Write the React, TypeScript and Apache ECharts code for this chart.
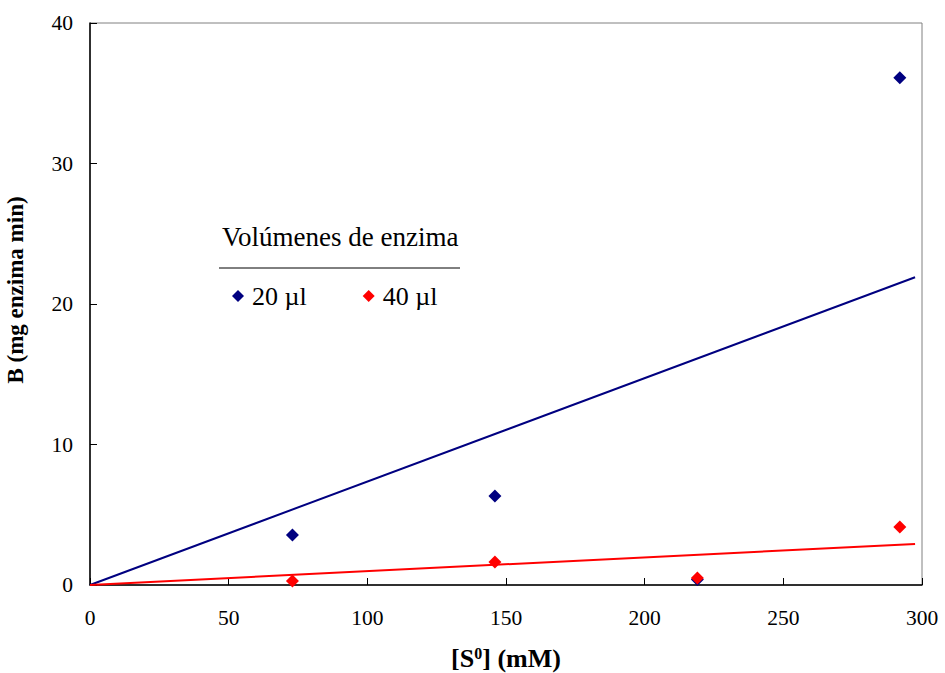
import React, { useEffect, useRef } from "react";
import * as echarts from "echarts";

const substrate = [73, 146, 219, 292];
const b20 = [3.55, 6.33, 0.4, 36.1];
const b40 = [0.28, 1.64, 0.5, 4.13];
const trendX = [0, 297.5];
const trend20 = [0, 21.9];
const trend40 = [0, 2.92];
const seriesNames = ["20 µl", "40 µl"];
const legendTitle = "Volúmenes de enzima";
const xTitle = "[S{sup|0}] (mM)";
const yTitle = "B (mg enzima min)";

const FONT = "Liberation Serif";

export default function App() {
  const ref = useRef<HTMLDivElement>(null);
  useEffect(() => {
    if (!ref.current) return;
    const chart = echarts.init(ref.current, null, { renderer: "svg" });
    const pts = (xs: number[], ys: number[]) => xs.map((x, i) => [x, ys[i]]);
    chart.setOption({
      animation: false,
      textStyle: { fontFamily: FONT },
      grid: {
        left: 90,
        right: 23,
        top: 23,
        bottom: 88,
        show: true,
        borderColor: "#808080",
        borderWidth: 1,
        containLabel: false,
        outerBoundsMode: "none",
      },
      xAxis: {
        type: "value",
        min: 0,
        max: 300,
        interval: 50,
        name: xTitle,
        nameLocation: "middle",
        nameGap: 60,
        nameTextStyle: {
          fontFamily: FONT,
          fontSize: 26,
          fontWeight: "bold",
          color: "#000",
          rich: {
            sup: {
              fontFamily: FONT,
              fontSize: 16,
              fontWeight: "bold",
              color: "#000",
              verticalAlign: "top",
              padding: [0, 0, 10, 0],
            },
          },
        },
        axisLine: { show: true, lineStyle: { color: "#000", width: 1.5 } },
        axisTick: { show: true, inside: true, length: 7, lineStyle: { color: "#000" } },
        axisLabel: { fontFamily: FONT, fontSize: 21.5, color: "#000", margin: 22 },
        splitLine: { show: false },
      },
      yAxis: {
        type: "value",
        min: 0,
        max: 40,
        interval: 10,
        name: yTitle,
        nameLocation: "middle",
        nameGap: 63,
        nameRotate: 90,
        nameTextStyle: {
          fontFamily: FONT,
          fontSize: 23,
          fontWeight: "bold",
          color: "#000",
          padding: [0, 0, 0, 28],
        },
        axisLine: { show: true, lineStyle: { color: "#000", width: 1.5 } },
        axisTick: { show: true, inside: true, length: 7, lineStyle: { color: "#000" } },
        axisLabel: { fontFamily: FONT, fontSize: 21.5, color: "#000", margin: 17 },
        splitLine: { show: false },
      },
      legend: {
        data: seriesNames,
        left: 227,
        top: 278,
        icon: "diamond",
        itemWidth: 12,
        itemHeight: 12,
        itemGap: 56,
        textStyle: { fontFamily: FONT, fontSize: 26, color: "#000", padding: [0, 0, 0, 3] },
      },
      graphic: [
        {
          type: "text",
          left: 222,
          top: 223,
          style: { text: legendTitle, fontFamily: FONT, fontSize: 27, fill: "#000" },
        },
        {
          type: "line",
          shape: { x1: 219, y1: 268, x2: 460, y2: 268 },
          style: { stroke: "#000", lineWidth: 1 },
        },
      ],
      series: [
        {
          name: seriesNames[0],
          type: "scatter",
          symbol: "diamond",
          symbolSize: 13,
          itemStyle: { color: "#000080", opacity: 1 },
          data: pts(substrate, b20),
          z: 3,
        },
        {
          name: "trend20",
          type: "line",
          showSymbol: false,
          symbol: "none",
          lineStyle: { color: "#000080", width: 2 },
          data: pts(trendX, trend20),
          z: 2,
        },
        {
          name: "trend40",
          type: "line",
          showSymbol: false,
          symbol: "none",
          lineStyle: { color: "#FF0000", width: 2 },
          data: pts(trendX, trend40),
          z: 4,
        },
        {
          name: seriesNames[1],
          type: "scatter",
          symbol: "diamond",
          symbolSize: 13,
          itemStyle: { color: "#FF0000", opacity: 1 },
          data: pts(substrate, b40),
          z: 5,
        },
      ],
    });
    return () => chart.dispose();
  }, []);
  return (
    <div
      ref={ref}
      style={{ position: "absolute", left: 0, top: 0, width: 945, height: 673 }}
    />
  );
}
